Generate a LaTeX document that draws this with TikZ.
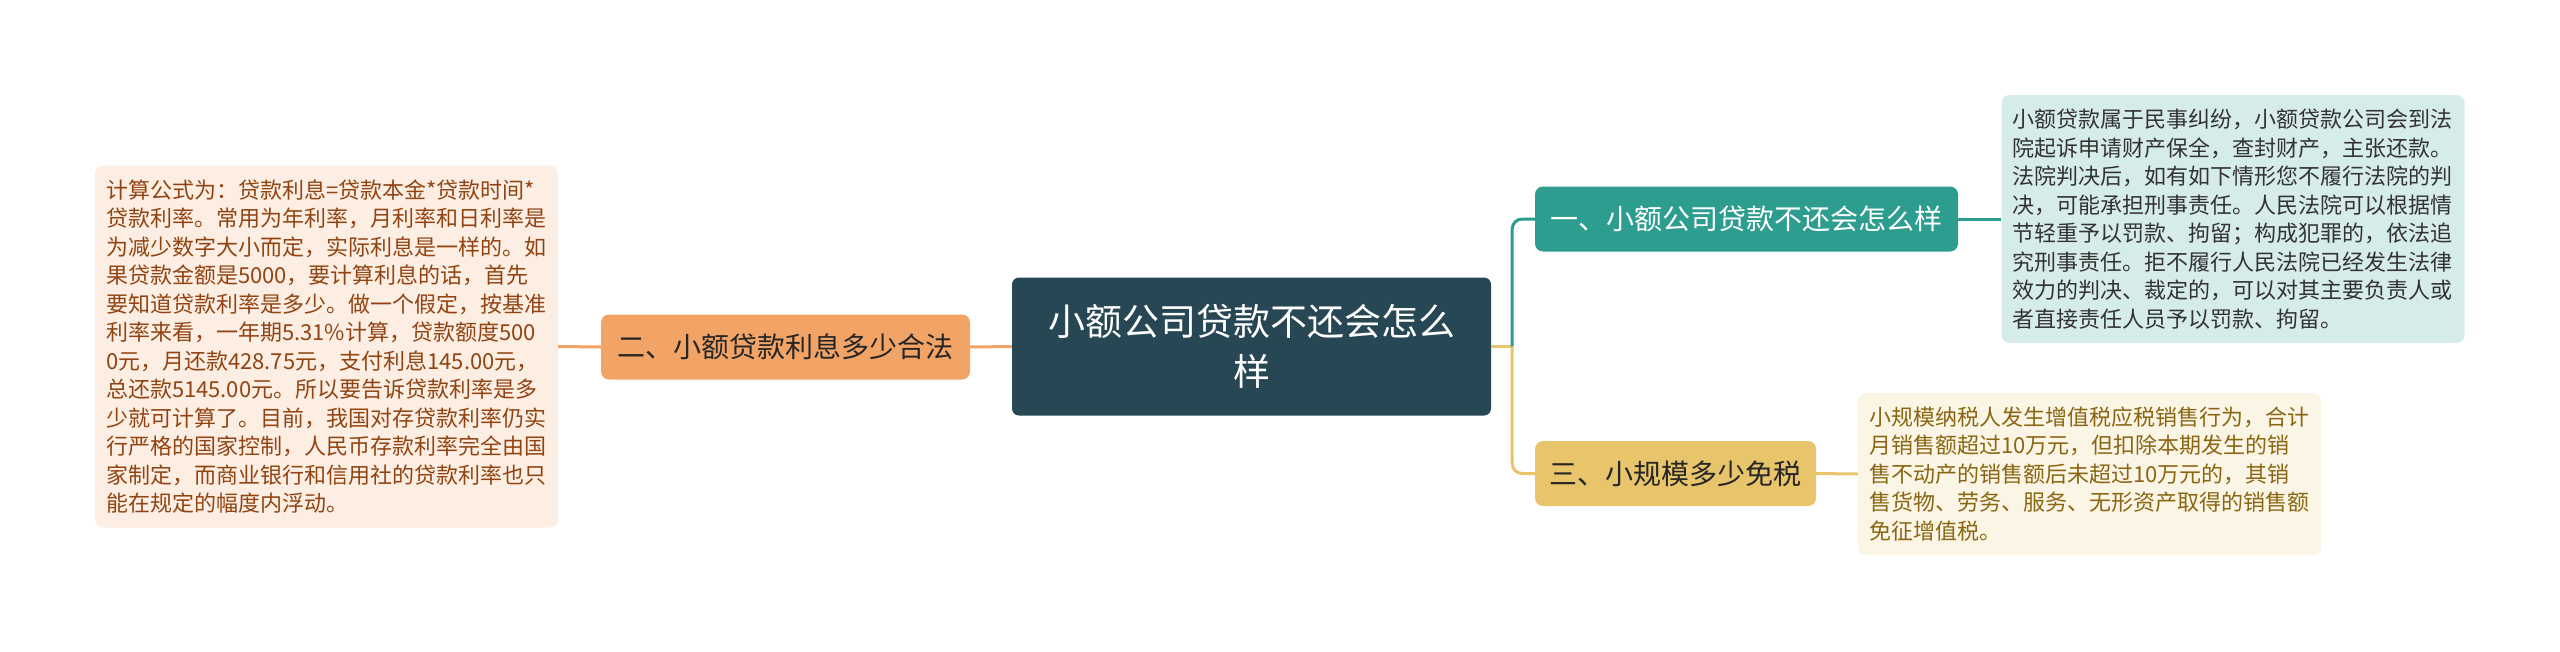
\documentclass[tikz,border=0pt]{standalone}
\usepackage{fontspec}
\setmainfont{Noto Sans CJK SC}
\usepackage{xcolor}
\definecolor{rootblue}{RGB}{38,71,83}
\definecolor{orangebranch}{RGB}{242,164,102}
\definecolor{tealbranch}{RGB}{44,157,142}
\definecolor{goldbranch}{RGB}{232,196,106}
\definecolor{orangenote}{RGB}{253,238,228}
\definecolor{tealnote}{RGB}{214,236,233}
\definecolor{goldnote}{RGB}{251,245,230}
\definecolor{browntext}{RGB}{145,68,18}
\definecolor{oliveText}{RGB}{138,102,18}

\tikzset{
  rootbox/.style={fill=rootblue, rounded corners=7pt, text=white, align=center,
    font=\fontsize{37}{50}\selectfont, minimum width=479pt, minimum height=138pt, inner sep=0pt},
  branchbox/.style={rounded corners=8pt, minimum height=65pt, inner sep=0pt,
    font=\fontsize{28}{34}\selectfont},
  notebox/.style={rounded corners=8pt, align=left, inner xsep=11pt, text width=441pt,
    font=\fontsize{22}{28.5}\selectfont},
  link/.style={line width=3pt}
}

\begin{document}
\begin{tikzpicture}[x=1pt,y=-1pt]
  \useasboundingbox[fill=white] (0,0) rectangle (2560,651);

  % Central topic
  \node[rootbox] (root) at (1251.5,346.5) {小额公司贷款不还会怎么\\样};

  % Left branch
  \node[branchbox, fill=orangebranch, text=black!85, minimum width=369pt] (b2) at (785.5,347) {二、小额贷款利息多少合法};
  \node[notebox, fill=orangenote, text=browntext, minimum height=362pt] (n2) at (326.5,346.5) {计算公式为：贷款利息=贷款本金*贷款时间*\\
贷款利率。常用为年利率，月利率和日利率是\\
为减少数字大小而定，实际利息是一样的。如\\
果贷款金额是5000，要计算利息的话，首先\\
要知道贷款利率是多少。做一个假定，按基准\\
利率来看，一年期5.31\%计算，贷款额度500\\
0元，月还款428.75元，支付利息145.00元，\\
总还款5145.00元。所以要告诉贷款利率是多\\
少就可计算了。目前，我国对存贷款利率仍实\\
行严格的国家控制，人民币存款利率完全由国\\
家制定，而商业银行和信用社的贷款利率也只\\
能在规定的幅度内浮动。};

  % Right branches
  \node[branchbox, fill=tealbranch, text=white, minimum width=423pt] (b1) at (1746.5,219) {一、小额公司贷款不还会怎么样};
  \node[notebox, fill=tealnote, text=black!80, minimum height=248pt] (n1) at (2233,219) {小额贷款属于民事纠纷，小额贷款公司会到法\\
院起诉申请财产保全，查封财产，主张还款。\\
法院判决后，如有如下情形您不履行法院的判\\
决，可能承担刑事责任。人民法院可以根据情\\
节轻重予以罚款、拘留；构成犯罪的，依法追\\
究刑事责任。拒不履行人民法院已经发生法律\\
效力的判决、裁定的，可以对其主要负责人或\\
者直接责任人员予以罚款、拘留。};

  \node[branchbox, fill=goldbranch, text=black!85, minimum width=281pt] (b3) at (1675.5,473.5) {三、小规模多少免税};
  \node[notebox, fill=goldnote, text=oliveText, minimum height=162pt] (n3) at (2089.5,474) {小规模纳税人发生增值税应税销售行为，合计\\
月销售额超过10万元，但扣除本期发生的销\\
售不动产的销售额后未超过10万元的，其销\\
售货物、劳务、服务、无形资产取得的销售额\\
免征增值税。};

  % Connectors
  \draw[link, orangebranch] (root.west) -- (b2.east);
  \draw[link, orangebranch] (b2.west) -- (n2.east);
  \coordinate (fork) at ([xshift=21pt]root.east);
  \draw[link, goldbranch] (root.east) -- (fork);
  \draw[link, tealbranch, rounded corners=10pt] (fork) |- (b1.west);
  \draw[link, goldbranch, rounded corners=10pt] (fork) |- (b3.west);
  \draw[link, tealbranch] (b1.east) -- (n1.west);
  \draw[link, goldbranch] (b3.east) -- (n3.west);
\end{tikzpicture}
\end{document}
